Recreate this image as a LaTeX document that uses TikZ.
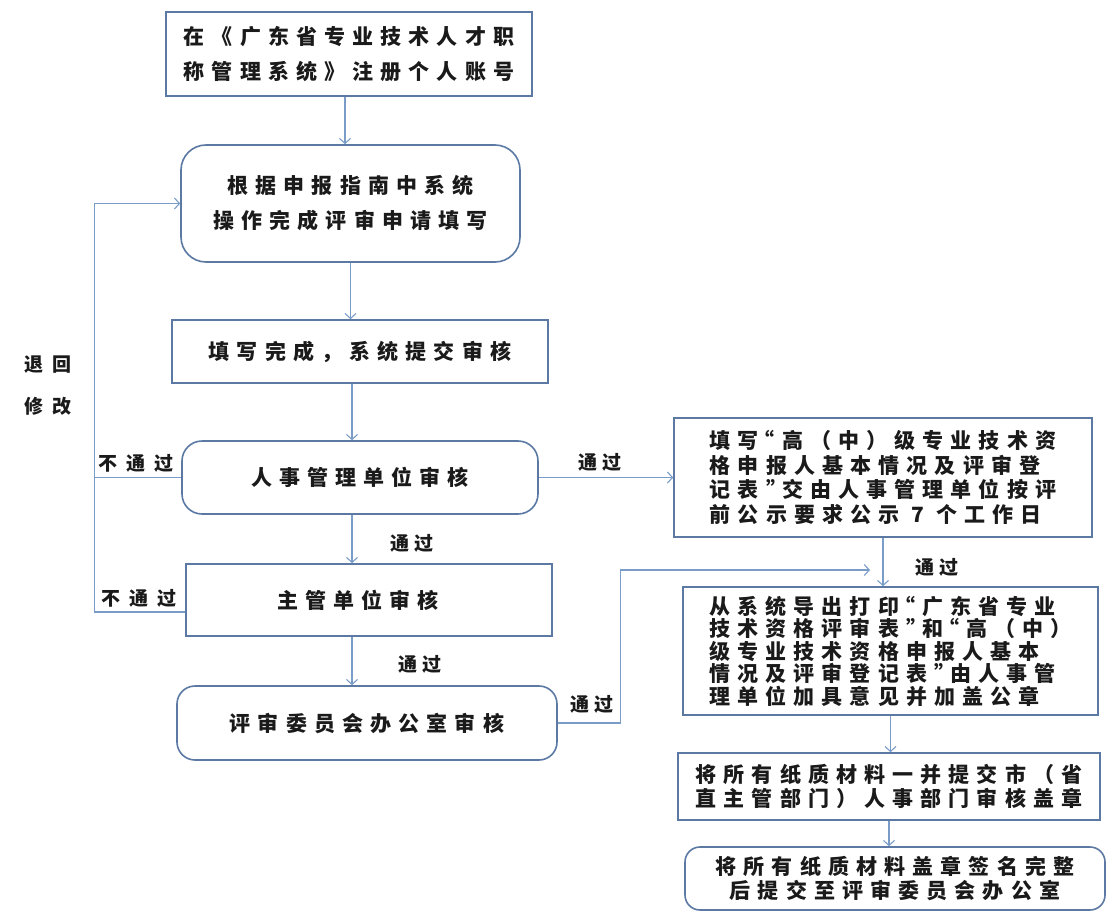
\documentclass[tikz,border=0pt]{standalone}
\usepackage{fontspec}
\newfontfamily\cjk[LetterSpace=34]{Noto Sans CJK SC}
\newfontfamily\cjklab[LetterSpace=30]{Noto Sans CJK SC}
\newfontfamily\cjkwide[LetterSpace=48]{Noto Sans CJK SC}
\newcommand{\myoq}{\kern-5pt“}
\newcommand{\mycq}{”\kern-5pt}
\usetikzlibrary{arrows.meta}
\definecolor{bd}{HTML}{5B79A3}
\definecolor{ln}{HTML}{7A9CC8}
\definecolor{tx}{HTML}{1A1A1A}
\tikzset{
 box/.style={draw=bd, line width=1.6pt, inner sep=0pt, text=tx, align=center},
 rbox/.style={box, rounded corners=20pt},
 lt/.style={font=\cjk\bfseries\fontsize{21}{35}\selectfont},
 rt/.style={font=\cjk\bfseries\fontsize{21}{24.5}\selectfont},
 arr/.style={draw=ln, line width=1.1pt, -{Straight Barb[length=5pt,width=11pt]}},
 con/.style={draw=ln, line width=1.1pt},
 lab/.style={font=\cjklab\bfseries\fontsize{19}{22}\selectfont, text=tx, inner sep=0pt},
 wlab/.style={font=\cjkwide\bfseries\fontsize{19}{22}\selectfont, text=tx, inner sep=0pt}
}
\begin{document}
\begin{tikzpicture}[x=1pt,y=-1pt]
\useasboundingbox (0,0) rectangle (1113,915);
% left column
\node[box,lt,minimum width=366pt,minimum height=84pt] (b1) at (349,54) {在《广东省专业技术人才职\\称管理系统》注册个人账号};
\node[rbox,rounded corners=25pt,lt,minimum width=339pt,minimum height=117pt] (b2) at (350.5,203.5) {根据申报指南中系统\\操作完成评审申请填写};
\node[box,lt,minimum width=376pt,minimum height=63pt] (b3) at (360,351.5) {填写完成，系统提交审核};
\node[rbox,lt,minimum width=356pt,minimum height=73pt] (b4) at (360,477.5) {人事管理单位审核};
\node[box,lt,minimum width=366pt,minimum height=72pt] (b5) at (369,600) {\hspace{-22pt}主管单位审核};
\node[rbox,rounded corners=18pt,lt,minimum width=380pt,minimum height=74pt] (b6) at (367,723) {评审委员会办公室审核};
% right column
\node[box,rt,align=left,minimum width=418pt,minimum height=119pt] (b7) at (883,477.5) {填写\myoq 高（中）级专业技术资\\格申报人基本情况及评审登\\记表\mycq 交由人事管理单位按评\\前公示要求公示 7 个工作日};
\node[box,rt,align=left,font=\cjk\bfseries\fontsize{21}{22.5}\selectfont,minimum width=415pt,minimum height=128pt] (b8) at (890.5,651) {从系统导出打印\myoq 广东省专业\\技术资格评审表\mycq 和\myoq 高（中）\\级专业技术资格申报人基本\\情况及评审登记表\mycq 由人事管\\理单位加具意见并加盖公章};
\node[box,rt,minimum width=422pt,minimum height=67pt] (b9) at (889,786.5) {将所有纸质材料一并提交市（省\\直主管部门）人事部门审核盖章};
\node[rbox,rounded corners=15pt,rt,minimum width=420pt,minimum height=63pt] (b10) at (895,878.5) {将所有纸质材料盖章签名完整\\后提交至评审委员会办公室};
% vertical arrows left
\draw[arr] ([xshift=-4pt]b1.south) -- ([xshift=-4pt]b1.south |- b2.north);
\draw[arr] (b2.south) -- (b2.south |- b3.north);
\draw[arr] ([xshift=-8pt]b3.south) -- ([xshift=-8pt]b3.south |- b4.north);
\draw[arr] ([xshift=-8pt]b4.south) -- ([xshift=-8pt]b4.south |- b5.north);
\draw[arr] ([xshift=-17pt]b5.south) -- ([xshift=-17pt]b5.south |- b6.north);
\node[lab] (p1) at (412,543) {通过};
\node[lab] (p2) at (420,664) {通过};
% feedback loop
\draw[arr] ([yshift=-12pt]b5.west) -| ([xshift=-86pt]b2.west) -- (b2.west);
\draw[con] (b4.west) -- ++(-87,0);
\node[wlab] (n1) at (136,463) {不通过};
\node[wlab] (n2) at (139,598) {不通过};
\node[wlab] (r1) at (48,365) {退回};
\node[wlab] (r2) at (48,406) {修改};
% right arrows
\draw[arr] (b4.east) -- (b7.west);
\node[lab] (p3) at (600,462) {通过};
\draw[arr] (b7.south) -- (b7.south |- b8.north);
\node[lab] (p4) at (937,567) {通过};
\coordinate (m) at (870,570);
\draw[arr] (b6.east) -- ++(63,0) |- (m);
\node[lab] (p5) at (592,704) {通过};
\draw[arr] (b8.south) -- (b8.south |- b9.north);
\draw[arr] (b9.south) -- (b9.south |- b10.north);
\end{tikzpicture}
\end{document}
